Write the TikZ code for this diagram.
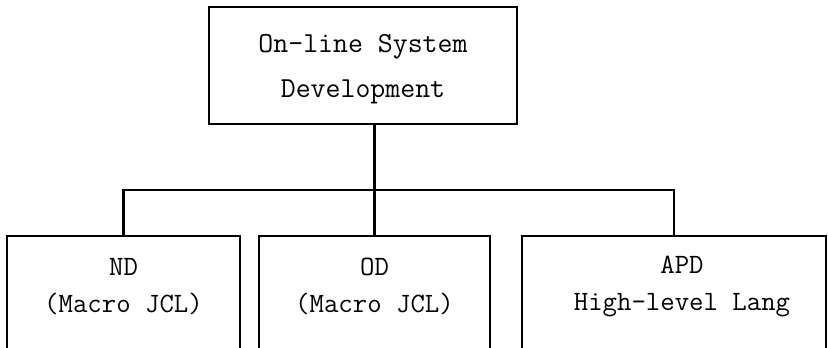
\documentclass[tikz,border=0pt]{standalone}
\usepackage{tikz}
\usetikzlibrary{positioning}

\begin{document}
\begin{tikzpicture}[x=1pt, y=-1pt, line width=2.4pt,
  box/.style={draw, rectangle, inner sep=0pt},
  toptext/.style={font=\ttfamily\fontsize{29}{45}\selectfont, align=center},
  boxtext/.style={font=\ttfamily\fontsize{28}{37}\selectfont, align=center}]

\useasboundingbox (0,0) rectangle (828,348);
\clip (0,0) rectangle (828,348);

\node [box, minimum width=308pt, minimum height=117pt] (top) at (363,65.5) {};
\node [toptext] (top-text) at (363,69) {On-line System\\Development};

\foreach \n/\c/\w in {nd/123.5/233, od/374.5/231, apd/674/304}
  \node [box, minimum width=\w pt, minimum height=164pt] (\n) at (\c,318) {};

\node [boxtext] (nd-text) at (nd.center |- 0,286.5) {ND\\(Macro JCL)};
\node [boxtext] (od-text) at (od.center |- 0,286.5) {OD\\(Macro JCL)};
\node [boxtext] (apd-text) at (682,286.5) {APD\\High-level Lang};

\coordinate (junction) at (od.north |- 0,190);

\draw (nd.north) |- (junction) -| (apd.north);
\draw (top.south -| od.north) -- (od.north);

\end{tikzpicture}
\end{document}
